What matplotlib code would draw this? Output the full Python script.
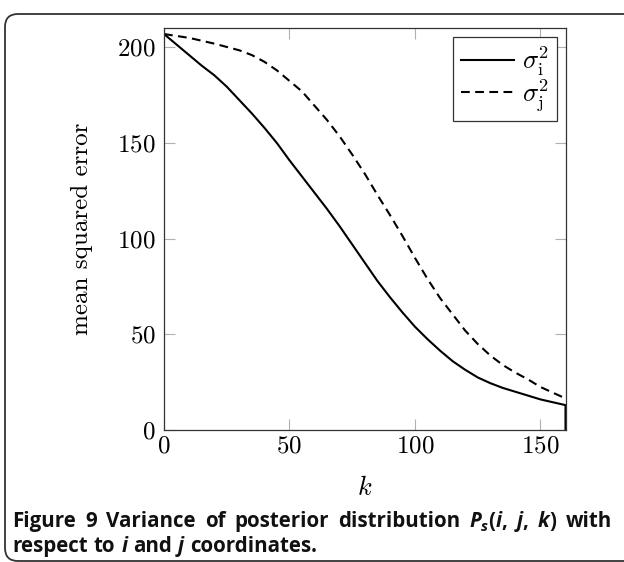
import matplotlib
matplotlib.use("Agg")
import matplotlib.pyplot as plt
from matplotlib.patches import FancyBboxPatch
from matplotlib.transforms import Affine2D

# values
k_i = [0, 5, 10, 15, 20, 25, 30, 35, 40, 45, 50, 55, 60, 65, 70, 75, 80,
       85, 90, 95, 100, 105, 110, 115, 120, 125, 130, 135, 140, 145, 150,
       155, 160, 160]
mse_i = [207, 201.5, 196, 190.5, 185.5, 179.5, 172.5, 165.5, 158, 150, 141,
         132.5, 124, 115.5, 106.5, 97, 87.5, 78, 69.5, 61.5, 54, 47.5, 41.5,
         36, 31.5, 27.5, 24.5, 22, 20, 18, 16, 14.5, 13, 0]
k_j = [0, 10, 20, 30, 35, 40, 45, 50, 55, 60, 65, 70, 75, 80, 85, 90, 95,
       100, 105, 110, 115, 120, 125, 130, 135, 140, 145, 150, 155, 160]
mse_j = [207, 205, 202, 198.5, 196, 192.5, 188, 182.5, 177, 169.5, 162, 153.5,
         144, 134, 123, 112.5, 101.5, 90, 79, 69, 60.5, 52, 45, 39, 34, 30,
         26.5, 22.5, 19.5, 16.5]
x_ticks = [0, 50, 100, 150]
y_ticks = [0, 50, 100, 150, 200]
labels = [r'$\sigma_{\mathrm{i}}^2$', r'$\sigma_{\mathrm{j}}^2$']

W, H = 624, 562
plt.rcParams['mathtext.fontset'] = 'cm'
plt.rcParams['font.family'] = 'serif'
plt.rcParams['font.serif'] = ['cmr10']
plt.rcParams['axes.formatter.use_mathtext'] = True

fig = plt.figure(figsize=(W / 100, H / 100), dpi=100)
# pixel coords, origin top-left
pix = Affine2D().scale(1, -1).translate(0, H).scale(1 / fig.dpi) + fig.dpi_scale_trans

def fx(p):
    return p / W

def fy(p):
    return 1 - p / H

ax = fig.add_axes([fx(164), fy(430), fx(566) - fx(164), fy(28.3) - fy(430)])
ax.plot(k_i, mse_i, color='black', lw=1.5, label=labels[0])
ax.plot(k_j, mse_j, color='black', lw=1.5, ls=(0, (4.2, 2.6)), label=labels[1])
ax.set_xlim(0, 160.2)
ax.set_ylim(0, 210)
ax.set_xticks(x_ticks)
ax.set_yticks(y_ticks)
ax.tick_params(direction='in', length=8, width=0.8, color='#b0b0b0',
               top=True, right=True, labelsize=18)
ax.tick_params(axis='x', pad=4)
ax.tick_params(axis='y', pad=6)
for s in ax.spines.values():
    s.set_linewidth(0.9)
    s.set_color('#333333')
ax.set_xlabel(r'$k$', fontsize=19)
ax.xaxis.set_label_coords(0.5, -(476 - 430) / 401.7)
ax.set_ylabel('mean squared error', fontsize=18)
ax.yaxis.set_label_coords(-(164 - 93) / 402, 0.5)

leg = ax.legend(loc='upper right', bbox_to_anchor=(fx(557), fy(36.7)),
                bbox_transform=fig.transFigure, borderaxespad=0,
                fontsize=19, frameon=True, fancybox=False, framealpha=1,
                edgecolor='#333333', handlelength=2.0, handletextpad=0.32,
                labelspacing=-0.04, borderpad=0.3)
leg.get_frame().set_linewidth(0.9)

# rounded border around the whole figure
border = FancyBboxPatch((5 / 100, (H - 561) / 100), 7.0, (561 - 14) / 100,
                        boxstyle='round,pad=0,rounding_size=0.13',
                        transform=fig.dpi_scale_trans, fill=False,
                        edgecolor='#333333', lw=1.3)
fig.add_artist(border)

# caption
fs = 14.8
cap_font = dict(family='Open Sans', weight='bold', color='#111111')
renderer = fig.canvas.get_renderer()

def make_word(runs):
    arts = []
    for txt, style, sub in runs:
        size = fs * 0.72 if sub else fs
        t = fig.text(0, 0, txt, transform=pix, fontsize=size, style=style,
                     va='baseline', ha='left', **cap_font)
        arts.append((t, sub))
    return arts

def word_width(arts):
    return sum(t.get_window_extent(renderer).width for t, _ in arts)

def place(arts, x, y):
    for t, sub in arts:
        t.set_position((x, y + (4 if sub else 0)))
        x += t.get_window_extent(renderer).width
    return x

n, it = 'normal', 'italic'
line1 = [[('Figure', n, False)], [('9', n, False)], [('Variance', n, False)],
         [('of', n, False)], [('posterior', n, False)],
         [('distribution', n, False)],
         [('P', it, False), ('s', it, True), ('(', n, False), ('i', it, False), (',', n, False)],
         [('j', it, False), (',', n, False)],
         [('k', it, False), (')', n, False)], [('with', n, False)]]
line2 = [[('respect', n, False)], [('to', n, False)], [('i', it, False)],
         [('and', n, False)], [('j', it, False)], [('coordinates.', n, False)]]

words1 = [make_word(w) for w in line1]
total = sum(word_width(w) for w in words1)
gap = (612 - 12 - total) / (len(words1) - 1)
x = 12
for w in words1:
    x = place(w, x, 527) + gap

words2 = [make_word(w) for w in line2]
x = 12
for w in words2:
    x = place(w, x, 552) + 6

fig.savefig('out.png', dpi=100)
